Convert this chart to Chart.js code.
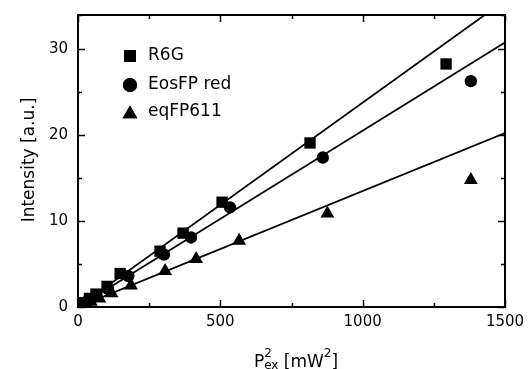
<!DOCTYPE html>
<html>
<head>
<meta charset="utf-8">
<script src="https://cdn.jsdelivr.net/npm/chart.js@4/dist/chart.umd.min.js"></script>
<style>
  html, body { margin: 0; padding: 0; background: #fff; }
  canvas { display: block; }
</style>
</head>
<body>
<canvas id="grafica" width="528" height="369"></canvas>
<script>
// series
const seriesNames = ['R6G', 'EosFP red', 'eqFP611'];
const seriesStyles = ['rect', 'circle', 'triangle'];

const r6gX = [20, 40, 63, 102, 148, 288, 369, 506, 815, 1293];
const r6gY = [0.5, 1.0, 1.5, 2.4, 3.9, 6.5, 8.6, 12.2, 19.1, 28.3];

const eosX = [15, 35, 65, 105, 177, 302, 397, 534, 860, 1380];
const eosY = [0.3, 0.7, 1.3, 2.1, 3.6, 6.1, 8.1, 11.6, 17.4, 26.3];

const eqX = [20, 45, 75, 118, 186, 306, 415, 566, 876, 1380];
const eqY = [0.3, 0.6, 1.0, 1.6, 2.5, 4.2, 5.6, 7.7, 10.9, 14.8];

// linear fits through the origin, value at each end of the x range
const fitX = [0, 1500];
const r6gFit = [0, 35.7];
const eosFit = [0, 30.8];
const eqFit = [0, 20.25];

const xTicks = [0, 500, 1000, 1500];
const yTicks = [0, 10, 20, 30];

const toPoints = (xs, ys) => xs.map((x, i) => ({ x: x, y: ys[i] }));

const pointSets = [toPoints(r6gX, r6gY), toPoints(eosX, eosY), toPoints(eqX, eqY)];
const fitSets = [toPoints(fitX, r6gFit), toPoints(fitX, eosFit), toPoints(fitX, eqFit)];
const pointSizes = [8, 6.2, 8];

const datasets = [];
pointSets.forEach((pts, i) => {
  datasets.push({
    label: seriesNames[i],
    data: pts,
    pointStyle: seriesStyles[i],
    pointRadius: pointSizes[i],
    pointBackgroundColor: '#000',
    pointBorderColor: '#000',
    pointBorderWidth: 0,
    showLine: false,
    order: 0
  });
});
fitSets.forEach((pts, i) => {
  datasets.push({
    label: seriesNames[i] + ' fit',
    data: pts,
    showLine: true,
    borderColor: '#000',
    borderWidth: 1.8,
    pointRadius: 0,
    order: 1
  });
});

// frame, inward ticks, tick labels, legend and axis titles
const marcoPlugin = {
  id: 'marco',
  afterDraw(chart) {
    const ctx = chart.ctx;
    const area = chart.chartArea;
    const xs = chart.scales.x;
    const ys = chart.scales.y;

    ctx.save();
    ctx.strokeStyle = '#000';
    ctx.lineWidth = 2;
    ctx.strokeRect(area.left, area.top, area.right - area.left, area.bottom - area.top);

    ctx.lineWidth = 1.5;
    ctx.beginPath();
    xs.ticks.forEach((t) => {
      const px = Math.round(xs.getPixelForValue(t.value)) + 0.5;
      const len = xTicks.includes(t.value) ? 7 : 4;
      ctx.moveTo(px, area.bottom); ctx.lineTo(px, area.bottom - len);
      ctx.moveTo(px, area.top); ctx.lineTo(px, area.top + len);
    });
    ys.ticks.forEach((t) => {
      const py = Math.round(ys.getPixelForValue(t.value)) + 0.5;
      const len = yTicks.includes(t.value) ? 7 : 4;
      ctx.moveTo(area.left, py); ctx.lineTo(area.left + len, py);
      ctx.moveTo(area.right, py); ctx.lineTo(area.right - len, py);
    });
    ctx.stroke();

    // tick labels
    ctx.fillStyle = '#000';
    ctx.font = '15px "DejaVu Sans"';
    ctx.textAlign = 'center';
    ctx.textBaseline = 'top';
    xTicks.forEach((v) => {
      ctx.fillText(String(v), xs.getPixelForValue(v), area.bottom + 8);
    });
    ctx.textAlign = 'right';
    ctx.textBaseline = 'middle';
    yTicks.forEach((v) => {
      ctx.fillText(String(v), area.left - 10, ys.getPixelForValue(v));
    });

    // legend
    const legendY = [56, 85, 112];
    const legendSizes = [8.5, 7, 8.5];
    ctx.font = '17px "DejaVu Sans"';
    ctx.textBaseline = 'middle';
    ctx.textAlign = 'left';
    seriesNames.forEach((name, i) => {
      Chart.helpers.drawPoint(ctx, {
        pointStyle: seriesStyles[i],
        radius: legendSizes[i],
        borderWidth: 0
      }, 130, legendY[i] + (seriesStyles[i] === 'triangle' ? 2 : 0));
      ctx.fill();
      ctx.fillText(name, 148, legendY[i]);
    });

    // y title
    ctx.save();
    ctx.translate(34, 160);
    ctx.rotate(-Math.PI / 2);
    ctx.textAlign = 'center';
    ctx.textBaseline = 'alphabetic';
    ctx.font = '17px "DejaVu Sans"';
    ctx.fillText('Intensity [a.u.]', 0, 0);
    ctx.restore();

    // x title: P^2_ex [mW^2]
    const big = '17px "DejaVu Sans"';
    const small = '12px "DejaVu Sans"';
    const base = 367;
    const parts = [
      { t: 'P', f: big, dy: 0 },
      { t: '2', f: small, dy: -10, stack: true },
      { t: 'ex', f: small, dy: 2 },
      { t: ' [mW', f: big, dy: 0 },
      { t: '2', f: small, dy: -10 },
      { t: ']', f: big, dy: 0 }
    ];
    let total = 0;
    const widths = parts.map((p) => { ctx.font = p.f; return ctx.measureText(p.t).width; });
    parts.forEach((p, i) => { if (!p.stack) total += widths[i]; });
    let cx = 296 - total / 2;
    ctx.textAlign = 'left';
    ctx.textBaseline = 'alphabetic';
    parts.forEach((p, i) => {
      ctx.font = p.f;
      ctx.fillText(p.t, cx, base + p.dy);
      if (!p.stack) cx += widths[i];
    });
    ctx.restore();
  }
};

const ctx = document.getElementById('grafica');
new Chart(ctx, {
  type: 'scatter',
  data: { datasets: datasets },
  options: {
    responsive: false,
    animation: false,
    layout: { padding: { top: 15, right: 23, left: 0, bottom: 0 } },
    plugins: { legend: { display: false }, tooltip: { enabled: false } },
    scales: {
      x: {
        type: 'linear',
        min: 0,
        max: 1500,
        grid: { display: false, drawTicks: false },
        border: { display: false },
        ticks: { stepSize: 250, autoSkip: false, display: false },
        afterFit: (scale) => { scale.height = 62; }
      },
      y: {
        type: 'linear',
        min: 0,
        max: 34,
        grid: { display: false, drawTicks: false },
        border: { display: false },
        ticks: { stepSize: 5, autoSkip: false, display: false },
        afterFit: (scale) => { scale.width = 78; }
      }
    }
  },
  plugins: [marcoPlugin]
});
</script>
</body>
</html>
